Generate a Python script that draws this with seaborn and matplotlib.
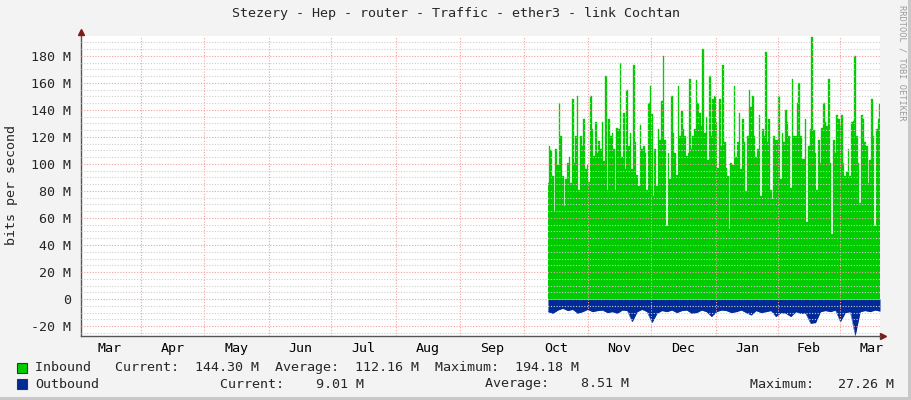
import numpy as np
import pandas as pd
import matplotlib
matplotlib.use("Agg")
import matplotlib.pyplot as plt
import seaborn as sns
from matplotlib.patches import Rectangle

title = "Stezery - Hep - router - Traffic - ether3 - link Cochtan"
month_labels = ["Mar", "Apr", "May", "Jun", "Jul", "Aug", "Sep",
                "Oct", "Nov", "Dec", "Jan", "Feb", "Mar"]
# month boundaries, in days from the left edge of the graph (365 day window)
month_edges = [-1.8, 27.4, 56.2, 85.9, 114.2, 143.9, 173.1, 202.4,
               231.6, 260.4, 290.1, 318.4, 346.7, 375.6]
data_start, data_end = 213.3, 365.0

# inbound traffic, Mbit/s left to right
inbound = [86, 113, 110, 91, 65, 111, 99, 145, 121, 91, 69, 89, 101, 105, 86,
           148, 101, 121, 150, 81, 121, 113, 133, 96, 99, 87, 150, 126, 106, 131,
           108, 117, 111, 131, 102, 165, 81, 133, 121, 123, 111, 81, 127, 126, 175,
           105, 138, 96, 155,
           113, 123, 96, 173, 116, 92, 84, 129, 111, 113, 108, 81, 145, 158,
           137, 76, 111, 84, 126, 118, 147, 180, 118, 54, 108, 89, 150, 123, 108,
           92, 158, 121, 139, 126, 121, 106, 108, 163, 111, 121, 126, 162, 145, 138,
           128, 185, 123, 135, 103, 165,
           121, 148, 150, 131, 97, 148, 113, 173, 116, 97, 91, 52, 101, 99, 158,
           105, 116, 138, 96, 133, 116, 80, 121, 155, 142, 150, 121, 105, 111, 136,
           76, 126, 121, 183, 116, 133, 81, 74, 121, 118, 118, 150, 89, 123, 116,
           140, 131, 121, 82, 163, 121,
           121, 145, 160, 121, 104, 104, 133, 57, 113, 126, 194.2, 125, 108, 81, 118,
           101, 127, 145, 131, 128, 163, 101, 48, 118, 108, 136, 133, 128, 136, 101,
           91, 94, 111, 91, 131, 132, 180, 121, 101, 71, 136, 133, 116, 113, 86,
           103, 148, 121, 54, 126, 133, 144.3]

# outbound traffic, Mbit/s (drawn below zero)
outbound = [9.4, 10.6, 8.2, 6.9, 8.6, 7.7, 10.6, 9.4, 7.7, 9.4, 8.6, 8.2, 10.1,
            9.4, 10.6, 8.2, 8.6, 16.8, 9.4, 7.7, 9.4, 17.5, 10.6, 8.6, 9.4, 8.2,
            10.1, 8.6, 8.2, 10.6, 10.1, 8.2, 9.4, 13.0, 9.4, 8.2, 8.6, 10.1, 9.4,
            8.2, 10.1, 11.9, 8.6, 10.1, 9.4, 8.6, 13.0, 10.1, 10.6, 13.0, 9.4,
            10.6, 10.6, 18.0, 17.5, 9.4, 8.6, 9.4, 8.2, 16.8, 10.1, 9.4, 27.0,
            9.4, 8.6, 9.4, 8.2, 9.0]

in_stats = ["144.30 M", "112.16 M", "194.18 M"]
out_stats = ["9.01 M", "8.51 M", "27.26 M"]

df_in = pd.DataFrame({"day": np.linspace(data_start, data_end, len(inbound)),
                      "mbps": inbound})
df_out = pd.DataFrame({"day": np.linspace(data_start, data_end, len(outbound)),
                       "mbps": -np.array(outbound)})

sns.set_style("white")
plt.rcParams["font.family"] = ["DejaVu Sans Mono"]
fs = 9.6

fig = plt.figure(figsize=(9.11, 4.0), dpi=100, facecolor="#F3F3F3")
ax = fig.add_axes([81 / 911, 64 / 400, 799 / 911, 300 / 400])
ax.set_facecolor("white")

ax.fill_between(df_in["day"], 0, df_in["mbps"], step="mid", color="#00CC00", lw=0)
sns.lineplot(data=df_in, x="day", y="mbps", drawstyle="steps-mid", color="#00CC00",
             lw=0.25, ax=ax, legend=False)
ax.fill_between(df_out["day"], 0, df_out["mbps"], color="#002A97", lw=0)
sns.lineplot(data=df_out, x="day", y="mbps", color="#002A97", lw=0.3, ax=ax,
             legend=False)

ax.set_xlim(0, 365)
ax.set_ylim(-27.4, 194.8)

yt = list(range(-20, 181, 20))
ax.set_yticks(yt)
ax.set_yticklabels(["0" if v == 0 else f"{v} M" for v in yt], fontsize=fs)
ax.set_yticks(np.arange(-25, 195, 5), minor=True)

edges_in = [e for e in month_edges if 0 < e < 365]
ax.set_xticks(edges_in)
ax.set_xticklabels([])
mids = [(a + b) / 2 for a, b in zip(month_edges[:-1], month_edges[1:])]
ax.set_xticks(mids, minor=True)
ax.set_xticklabels(month_labels, minor=True, fontsize=fs)

ax.tick_params(axis="x", which="major", length=4, color="#E8A0A0", pad=2)
ax.tick_params(axis="x", which="minor", length=0, pad=4, colors="#000000")
ax.tick_params(axis="y", which="both", length=3, color="#C0C0C0", pad=4)

ax.set_axisbelow(False)
ax.grid(which="minor", axis="y", color="#CFCFCF", linestyle=(0, (1, 1.5)), lw=0.8)
ax.grid(which="major", axis="both", color="#F0A0A0", linestyle=(0, (1, 1.5)), lw=0.8)

for s in ["top", "right"]:
    ax.spines[s].set_visible(False)
for s in ["left", "bottom"]:
    ax.spines[s].set_color("#555555")
    ax.spines[s].set_linewidth(1.0)

ax.plot([0], [1.012], marker="^", ms=4.5, color="#7F1A1A", transform=ax.transAxes,
        clip_on=False)
ax.plot([1.004], [0], marker=">", ms=4.5, color="#7F1A1A", transform=ax.transAxes,
        clip_on=False)

ax.set_xlabel("")
ax.set_ylabel("")
fig.text(12 / 911, 1 - 185 / 400, "bits per second", rotation=90, ha="center",
         va="center", fontsize=fs)
fig.text(455.5 / 911, 1 - 14 / 400, title, ha="center", va="center", fontsize=fs)
fig.text(902 / 911, 1 - 5 / 400, "RRDTOOL / TOBI OETIKER", rotation=270,
         ha="center", va="top", fontsize=6.2, color="#9A9A9A")

# legend
for yb, col in [(363, "#00CC00"), (379, "#002A97")]:
    fig.patches.append(Rectangle((17 / 911, 1 - (yb + 10) / 400), 10 / 911, 10 / 400,
                                 transform=fig.transFigure, facecolor=col,
                                 edgecolor="#333333", lw=0.8))
fig.text(35 / 911, 1 - 368 / 400,
         f"Inbound   Current:  {in_stats[0]}  Average:  {in_stats[1]}  Maximum:  {in_stats[2]}",
         va="center", fontsize=fs)
fig.text(35 / 911, 1 - 384 / 400, "Outbound", va="center", fontsize=fs)
fig.text(220 / 911, 1 - 384 / 400, f"Current:{out_stats[0]:>10}", va="center", fontsize=fs)
fig.text(485 / 911, 1 - 384 / 400, f"Average:{out_stats[1]:>10}", va="center", fontsize=fs)
fig.text(750 / 911, 1 - 384 / 400, f"Maximum:{out_stats[2]:>10}", va="center", fontsize=fs)

# frame shading
fig.patches.append(Rectangle((1 - 3 / 911, 0), 3 / 911, 1, transform=fig.transFigure,
                             facecolor="#C8C8C8", lw=0))
fig.patches.append(Rectangle((0, 0), 1, 3 / 400, transform=fig.transFigure,
                             facecolor="#C8C8C8", lw=0))

fig.savefig("out.png", dpi=100, facecolor=fig.get_facecolor())
